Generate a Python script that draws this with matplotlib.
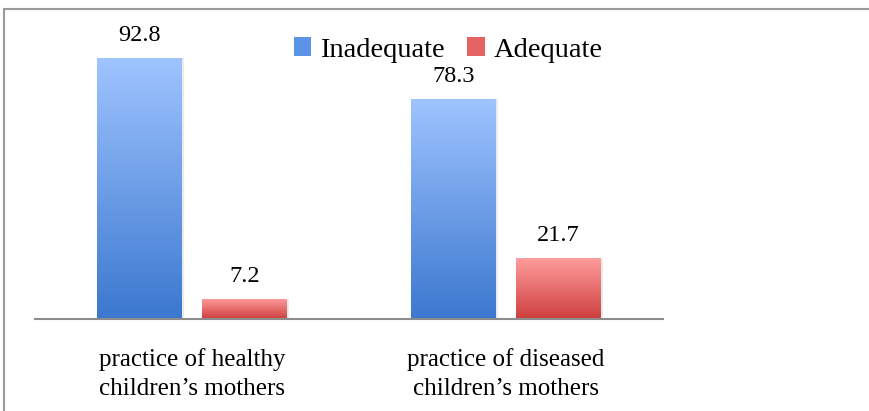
import matplotlib
matplotlib.use("Agg")
import matplotlib.pyplot as plt
import numpy as np
from matplotlib.patches import Rectangle, Patch
from matplotlib.colors import LinearSegmentedColormap

categories = ["practice of healthy\nchildren\u2019s mothers", "practice of diseased\nchildren\u2019s mothers"]
series_names = ["Inadequate", "Adequate"]
inadequate = [92.8, 78.3]
adequate = [7.2, 21.7]
value_labels_inad = ["92.8", "78.3"]
value_labels_adeq = ["7.2", "21.7"]

plt.rcParams['font.family'] = ['Liberation Serif', 'DejaVu Serif']

W, H = 869, 411
fig = plt.figure(figsize=(W/100, H/100), dpi=100)
ax = fig.add_axes([35/W, 1-319/H, 628/W, 281/H])
ax.set_xlim(-0.5, 1.5)
ax.set_ylim(0, 100)

blue_cmap = LinearSegmentedColormap.from_list("b", ["#3b78cf", "#9fc4ff"])
red_cmap = LinearSegmentedColormap.from_list("r", ["#cf3e3e", "#ff9d9d"])

x = np.arange(len(categories))
bw = 0.27
off = 0.167
grad = np.linspace(0, 1, 256).reshape(-1, 1)

def grad_bars(xs, vals, cmap, labels):
    bars = ax.bar(xs, vals, width=bw, color="none", edgecolor="none")
    for b, v, lab in zip(bars, vals, labels):
        x0 = b.get_x(); x1 = x0 + b.get_width()
        ax.add_patch(Rectangle((x0 + 0.006, 0), b.get_width(), v, facecolor="#000000",
                               alpha=0.08, edgecolor="none", zorder=1))
        im = ax.imshow(grad, extent=[x0, x1, 0, v], origin="lower", cmap=cmap,
                       aspect="auto", zorder=2)
        im.set_clip_path(b)
        ax.text((x0 + x1)/2, v + 4.2, lab, ha="center", va="bottom", fontsize=17.5,
                zorder=3)

grad_bars(x - off, inadequate, blue_cmap, value_labels_inad)
grad_bars(x + off, adequate, red_cmap, value_labels_adeq)

for s in ["top", "right", "left"]:
    ax.spines[s].set_visible(False)
ax.spines["bottom"].set_color("#8c8c8c")
ax.spines["bottom"].set_linewidth(1.5)
ax.set_yticks([])
ax.set_xticks(x)
ax.set_xticklabels(categories, fontsize=18, linespacing=1.43)
ax.tick_params(axis="x", length=0, pad=21)

handles = [Patch(facecolor="#5b93e6", edgecolor="none"),
           Patch(facecolor="#e66363", edgecolor="none")]
fig.legend(handles, series_names, loc="center", bbox_to_anchor=(448/W, 1-50/H),
           ncol=2, frameon=False, fontsize=20.5, handlelength=0.62, handleheight=0.62,
           handletextpad=0.3, columnspacing=0.8)

fig.patches.append(Rectangle((4/W, -0.1), 1.2, 1-9/H + 0.1, transform=fig.transFigure,
                             fill=False, edgecolor="#9a9a9a", linewidth=1.5))

fig.savefig("out.png", dpi=100)
